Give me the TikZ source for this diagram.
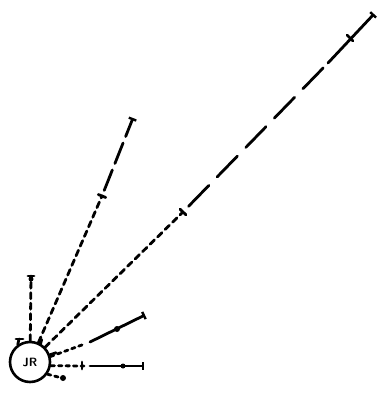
\documentclass[tikz,border=0pt]{standalone}
\usetikzlibrary{calc,arrows.meta}
\begin{document}
\begin{tikzpicture}[x=1pt,y=-1pt,line cap=round,
  ray/.style={line width=2.8pt},
  shortdash/.style={ray,dash pattern=on 6pt off 4.5pt},
  tinydash/.style={ray,dash pattern=on 3.5pt off 4pt},
  longdash/.style={ray,dash pattern=on 29pt off 12pt},
  middash/.style={ray,dash pattern=on 22pt off 7pt},
  endbar/.style={ray,-{Bar[width=8pt,line width=2.4pt]}},
  dotmark/.style={circle,fill,inner sep=0pt,minimum size=5pt}]
\useasboundingbox (0,0) rectangle (383,402);
\node[circle,draw,line width=2.6pt,minimum size=40pt,inner sep=0pt,font=\bfseries\sffamily\large] (c) at (30,362) {JR};
% long ray
\coordinate (am) at (183,212);
\coordinate (a3) at (328,63);
\coordinate (a2) at (350,38);
\coordinate (a1) at (374,14);
\draw[shortdash] (c) -- (am);
\draw[longdash] ($(am)!8pt!(a3)$) -- (a3);
\draw[endbar] (a3) -- (a1);
\draw[ray] ($(am)!4pt!90:(a3)$) -- ($(am)!4pt!-90:(a3)$);
\draw[ray] ($(a2)!4pt!90:(a1)$) -- ($(a2)!4pt!-90:(a1)$);
% second ray
\coordinate (bm) at (102,196);
\coordinate (b1) at (133,118);
\draw[shortdash] (c) -- (bm);
\draw[middash] ($(bm)!6pt!(b1)$) -- ($(b1)!16pt!(bm)$);
\draw[endbar] ($(b1)!16pt!(bm)$) -- (b1);
\draw[ray] ($(bm)!4pt!90:(b1)$) -- ($(bm)!4pt!-90:(b1)$);
% vertical ray
\coordinate (v1) at (31,276);
\draw[shortdash] (c) -- (v1);
\draw[ray] (v1) ++(-3,0) -- ++(6,0);
\node[dotmark] at (31,279) {};
% ray 4
\coordinate (d0) at (90,342);
\coordinate (dm) at (117,329);
\coordinate (d1) at (145,315);
\draw[tinydash] (c.15) -- ($(d0)!8pt!(c.15)$);
\draw[endbar] (d0) -- (d1);
\node[dotmark,minimum size=6pt] at (dm) {};
% ray 5
\coordinate (e0) at (90,366);
\coordinate (em) at (123,366);
\coordinate (e1) at (144,366);
\draw[tinydash] (c.-10) -- (84,366);
\draw[endbar] (e0) -- (e1);
\node[dotmark] at (em) {};
\draw[ray] (82,362) -- (82,369);
% short stubs
\draw[tinydash] (c.-35) -- (62,378);
\node[dotmark,minimum size=6pt] at (63,378) {};
\draw[ray] (c.125) -- (19,339);
\draw[ray] (16,339) -- (23,339);
\draw[ray] (c.60) -- ++(1,-4);
\draw[ray] (c.90) -- ++(0,-4);
\draw[ray] (c.20) -- ++(6,-2);
\end{tikzpicture}
\end{document}
